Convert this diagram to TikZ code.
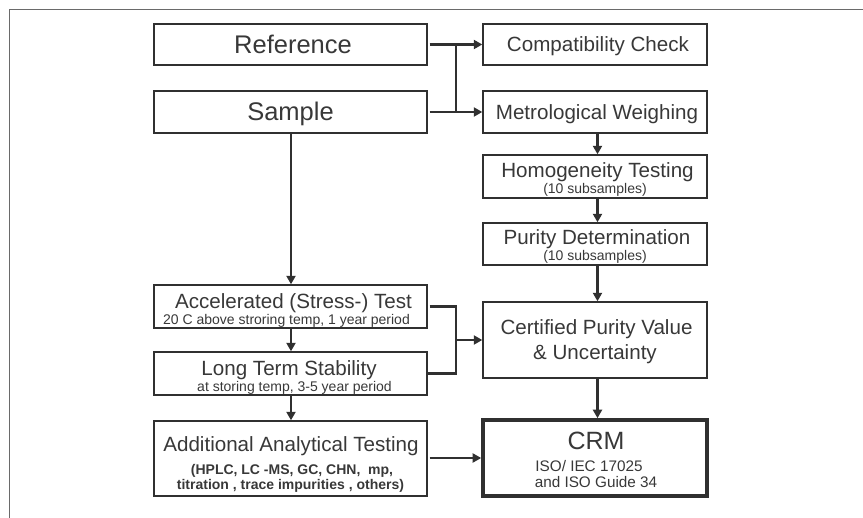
\documentclass[tikz,border=0pt]{standalone}
\usepackage{fontspec}
\setmainfont{Liberation Sans}
\usetikzlibrary{arrows.meta}
\definecolor{boxgray}{HTML}{303030}
\definecolor{textgray}{HTML}{383838}
\definecolor{framegray}{HTML}{6A6A6A}
\newcommand{\fsz}[1]{\fontsize{#1}{#1}\selectfont}
\begin{document}
\begin{tikzpicture}[x=1pt,y=-1pt,
  box/.style={draw=boxgray, line width=1.4pt, inner sep=0pt, rectangle},
  lbox/.style={box, minimum width=273pt},
  rbox/.style={box, minimum width=224pt},
  txt/.style={anchor=base, inner sep=0pt, text=textgray},
  big/.style={txt, font=\fsz{25.5}},
  main/.style={txt, font=\fsz{20.6}},
  sub/.style={txt, font=\fsz{14}},
  conn/.style={draw=boxgray, line width=2.4pt},
  arr/.style={conn, -{Triangle[length=8.5pt,width=9pt]}},
]
\useasboundingbox (0,0) rectangle (863,518);
% frame
\draw[framegray, line width=1.5pt] (863,9.5) -- (9.5,9.5) -- (9.5,518);

% boxes
\node[lbox, minimum height=41pt] (ref) at (290.5,44.5) {};
\node[lbox, minimum height=42pt] (smp) at (290.5,112) {};
\node[rbox, minimum height=41pt] (cmp) at (595,44.5) {};
\node[rbox, minimum height=42pt] (met) at (595,112) {};
\node[rbox, minimum height=43pt] (hom) at (595,176.5) {};
\node[rbox, minimum height=42pt] (pur) at (595,244) {};
\node[lbox, minimum height=43pt] (acc) at (290.5,306.5) {};
\node[lbox, minimum height=43pt] (lts) at (290.5,373.5) {};
\node[lbox, minimum height=75pt] (add) at (290.5,458.5) {};
\node[rbox, minimum height=76pt] (cer) at (595,340) {};
\node[rbox, minimum height=76pt, line width=3.6pt] (crm) at (595,458) {};

% texts
\node[big] (refT) at (293,54) {Reference};
\node[big] (smpT) at (290.5,120.5) {Sample};
\node[main] (cmpT) at (598,52) {Compatibility Check};
\node[main] (metT) at (597,119.5) {Metrological Weighing};
\node[main] (homT) at (597.5,177.5) {Homogeneity Testing};
\node[sub]  (homS) at (595,193.5) {(10 subsamples)};
\node[main] (purT) at (597,245) {Purity Determination};
\node[sub]  (purS) at (595,261) {(10 subsamples)};
\node[main] (accT) at (293.5,309) {Accelerated (Stress-) Test};
\node[sub]  (accS) at (286.5,325) {20 C above stroring temp, 1 year period};
\node[main] (ltsT) at (289,376) {Long Term Stability};
\node[sub]  (ltsS) at (294.5,392) {at storing temp, 3-5 year period};
\node[main] (addT) at (291,452) {Additional Analytical Testing};
\node[sub, font=\fsz{14}\bfseries] (addS1) at (292,475) {(HPLC, LC -MS, GC, CHN,\ \ mp,};
\node[sub, font=\fsz{14}\bfseries] (addS2) at (290.5,490) {titration , trace impurities , others)};
\node[main] (cerT1) at (596.5,335) {Certified Purity Value};
\node[main] (cerT2) at (595,360) {\& Uncertainty};
\node[txt, font=\fsz{25}] (crmT) at (596,450) {CRM};
\node[txt, font=\fsz{15.3}] (crmS1) at (589,471.5) {ISO/ IEC 17025};
\node[txt, font=\fsz{15.3}] (crmS2) at (596,488) {and ISO Guide 34};

% connectors
\coordinate (jx) at (456,0);
\coordinate (lx) at (291,0);
\coordinate (rx) at (597.5,0);
\draw[arr, shorten <=2pt] (ref.east) -- (cmp.west);
\draw[arr, shorten <=2pt] (smp.east) -- (met.west);
\draw[conn, line width=2pt] (ref.east -| jx) -- (smp.east -| jx);
\draw[arr, line width=2pt] (smp.south -| lx) -- (acc.north -| lx);
\draw[arr] (acc.south -| lx) -- (lts.north -| lx);
\draw[arr] (lts.south -| lx) -- (add.north -| lx);
\draw[arr] (met.south -| rx) -- (hom.north -| rx);
\draw[arr] (hom.south -| rx) -- (pur.north -| rx);
\draw[arr] (pur.south -| rx) -- (cer.north -| rx);
\draw[arr] (cer.south -| rx) -- (crm.north -| rx);
\draw[conn, shorten <=2pt] (acc.east) -- (acc.east -| jx) -- (lts.east -| jx) -- (lts.east);
\draw[arr] (cer.west -| jx) -- (cer.west);
\draw[arr, line width=2pt, shorten <=2pt] (add.east |- crm.west) -- (crm.west);
\end{tikzpicture}
\end{document}
